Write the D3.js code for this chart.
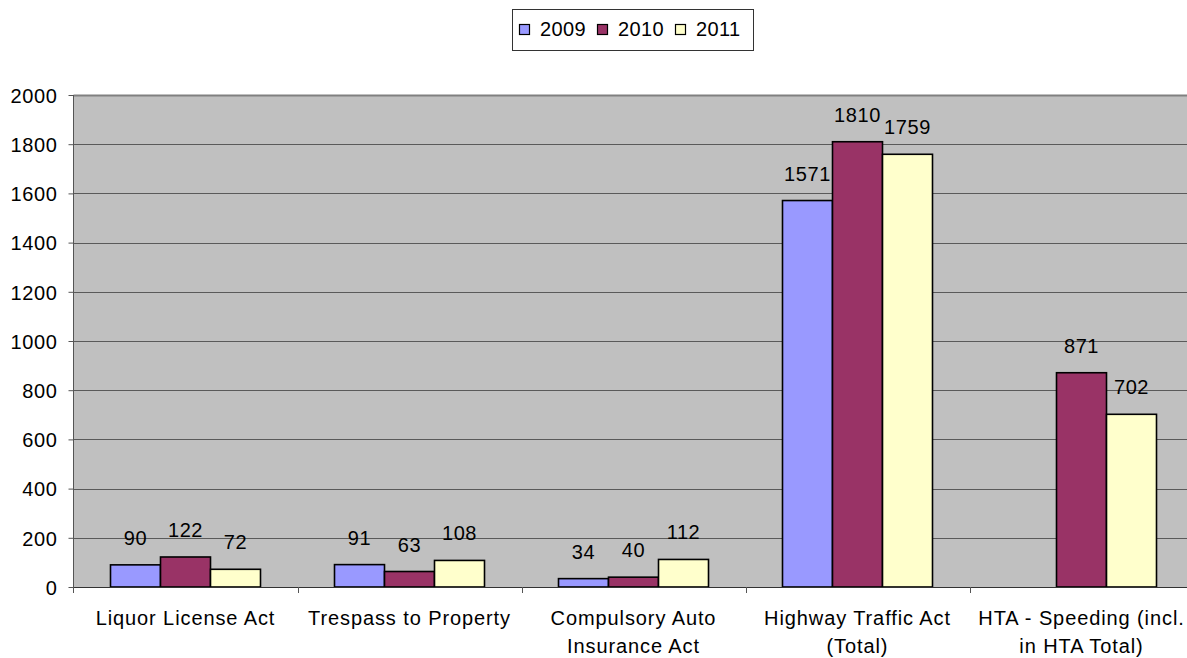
<!DOCTYPE html>
<html>
<head>
<meta charset="utf-8">
<script src="https://cdn.jsdelivr.net/npm/d3@7"></script>
<style>
  html, body { margin: 0; padding: 0; background: #fff; }
  svg { display: block; font-family: "Liberation Sans", Arial, sans-serif; }
</style>
</head>
<body>
<svg id="chart" width="1187" height="658"></svg>
<script>
// Offences by statute, three reporting years
const categories = [
  ["Liquor License Act"],
  ["Trespass to Property"],
  ["Compulsory Auto", "Insurance Act"],
  ["Highway Traffic Act", "(Total)"],
  ["HTA - Speeding (incl.", "in HTA Total)"]
];
const seriesNames = ["2009", "2010", "2011"];
const values2009 = [90, 91, 34, 1571, null];
const values2010 = [122, 63, 40, 1810, 871];
const values2011 = [72, 108, 112, 1759, 702];
const yTicks = [0, 200, 400, 600, 800, 1000, 1200, 1400, 1600, 1800, 2000];
const colors = ["#9999FF", "#993366", "#FFFFCC"];

const seriesValues = [values2009, values2010, values2011];
const catKeys = categories.map(c => c.join(" "));

const svg = d3.select("#chart");
const plotLeft = 73.5, plotRight = 1193.5, plotTop = 95, plotBottom = 587;
const fontSize = 20;

const x0 = d3.scaleBand().domain(catKeys).range([plotLeft, plotRight]).padding(0);
const x1 = d3.scaleBand().domain(seriesNames).range([0, x0.bandwidth()])
  .paddingInner(0).paddingOuter(0.74);
const y = d3.scaleLinear().domain([0, 2000]).range([plotBottom, plotTop]);

// plot area
svg.append("rect")
  .attr("x", plotLeft).attr("y", plotTop)
  .attr("width", plotRight - plotLeft).attr("height", plotBottom - plotTop)
  .attr("fill", "#C0C0C0");

// horizontal gridlines
svg.append("g")
  .selectAll("line")
  .data(yTicks.filter(t => t > 0))
  .join("line")
  .attr("x1", plotLeft).attr("x2", plotRight)
  .attr("y1", d => Math.round(y(d)) + 0.5).attr("y2", d => Math.round(y(d)) + 0.5)
  .attr("stroke", "#5a5a5a").attr("stroke-width", 1);
svg.append("line")
  .attr("x1", plotLeft).attr("x2", plotRight)
  .attr("y1", plotTop + 0.5).attr("y2", plotTop + 0.5)
  .attr("stroke", "#808080").attr("stroke-width", 2);

// bars
const rows = catKeys.map((k, i) => ({
  key: k,
  vals: seriesNames.map((s, j) => ({ s, v: seriesValues[j][i], c: colors[j] }))
}));

const groups = svg.append("g").selectAll("g")
  .data(rows)
  .join("g")
  .attr("transform", d => `translate(${x0(d.key)},0)`);

groups.selectAll("rect")
  .data(d => d.vals.filter(v => v.v != null))
  .join("rect")
  .attr("x", d => x1(d.s))
  .attr("y", d => y(d.v))
  .attr("width", x1.bandwidth())
  .attr("height", d => y(0) - y(d.v))
  .attr("fill", d => d.c)
  .attr("stroke", "#000")
  .attr("stroke-width", 1.6);

groups.selectAll("text")
  .data(d => d.vals.filter(v => v.v != null))
  .join("text")
  .attr("x", d => x1(d.s) + x1.bandwidth() / 2)
  .attr("y", d => y(d.v) - 20)
  .attr("text-anchor", "middle")
  .attr("font-size", fontSize)
  .attr("letter-spacing", 0.6)
  .attr("fill", "#000")
  .text(d => d.v);

// y axis
const yAxis = d3.axisLeft(y).tickValues(yTicks).tickSize(5).tickPadding(11)
  .tickFormat(d3.format("d"));
const gy = svg.append("g")
  .attr("transform", `translate(${plotLeft},0)`)
  .call(yAxis);
gy.select(".domain").attr("stroke", "#555").attr("d", `M0,${plotBottom + 6}V${plotTop}`);
gy.selectAll(".tick line").attr("stroke", "#555");
gy.selectAll(".tick text")
  .attr("font-size", fontSize).attr("letter-spacing", 0.6)
  .attr("font-family", "Liberation Sans, Arial, sans-serif")
  .attr("fill", "#000").attr("dy", "0.36em");

// x axis
const xAxis = d3.axisBottom(x0).tickSize(0).tickFormat("");
const gx = svg.append("g")
  .attr("transform", `translate(0,${plotBottom})`)
  .call(xAxis);
gx.select(".domain").attr("stroke", "#333").attr("stroke-width", 1.2);

// category boundary ticks
svg.append("g").selectAll("line")
  .data(catKeys.slice(1))
  .join("line")
  .attr("x1", d => Math.round(x0(d)) + 0.5).attr("x2", d => Math.round(x0(d)) + 0.5)
  .attr("y1", plotBottom).attr("y2", plotBottom + 6)
  .attr("stroke", "#555");

// category labels
const catLabels = svg.append("g").selectAll("text")
  .data(categories)
  .join("text")
  .attr("x", (d, i) => x0(catKeys[i]) + x0.bandwidth() / 2)
  .attr("y", 625)
  .attr("text-anchor", "middle")
  .attr("font-size", fontSize)
  .attr("letter-spacing", 0.9)
  .attr("fill", "#000");
catLabels.selectAll("tspan")
  .data(d => d)
  .join("tspan")
  .attr("x", function() { return d3.select(this.parentNode).attr("x"); })
  .attr("dy", (d, i) => i === 0 ? 0 : 28)
  .text(d => d);

// legend
const legend = svg.append("g");
legend.append("rect")
  .attr("x", 512.5).attr("y", 9.5).attr("width", 241).attr("height", 41)
  .attr("fill", "#fff").attr("stroke", "#333").attr("stroke-width", 1);
const legendX = d3.scalePoint().domain(seriesNames).range([519, 675]);
const items = legend.selectAll("g.item")
  .data(seriesNames.map((s, i) => ({ s, c: colors[i] })))
  .join("g").attr("class", "item")
  .attr("transform", d => `translate(${legendX(d.s)},0)`);
items.append("rect")
  .attr("x", 0.5).attr("y", 24.5).attr("width", 10).attr("height", 10)
  .attr("fill", d => d.c).attr("stroke", "#000").attr("stroke-width", 1.2);
items.append("text")
  .attr("x", 21).attr("y", 36)
  .attr("font-size", fontSize).attr("letter-spacing", 0.4)
  .attr("fill", "#000")
  .text(d => d.s);
</script>
</body>
</html>
